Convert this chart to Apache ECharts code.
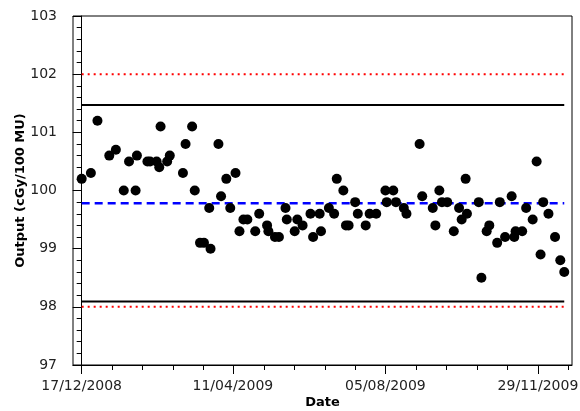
<!DOCTYPE html>
<html>
<head>
<meta charset="utf-8">
<script src="https://cdn.jsdelivr.net/npm/echarts@6/dist/echarts.min.js"></script>
<style>
  html, body { margin: 0; padding: 0; background: #fff; }
  #chart { width: 580px; height: 411px; }
</style>
</head>
<body>
<div id="chart"></div>
<script>
// days counted from 17/12/2008
let dayNums = [0, 7, 12, 21, 26, 32, 36, 41, 42, 50, 52, 57, 59, 60, 65, 67, 77, 79, 84, 86,
  90, 93, 97, 98, 104, 106, 110, 113, 117, 120, 123, 126, 132, 135, 141, 142, 147, 150, 155, 156,
  162, 164, 168, 174, 176, 181, 182, 188, 192, 194, 199, 201, 203, 208, 210, 216, 219, 224, 231, 232,
  237, 239, 245, 247, 257, 259, 267, 269, 272, 274, 278, 283, 287, 289, 292, 293, 302, 304, 308, 310,
  316, 318, 322, 327, 329, 330, 335, 338, 343, 346, 349, 351, 355, 360, 364, 367]
let outputs = [100.2, 100.3, 101.2, 100.6, 100.7, 100.0, 100.5, 100.0, 100.6, 100.5, 100.5, 100.5, 100.4, 101.1, 100.5, 100.6, 100.3, 100.8, 101.1, 100.0,
  99.1, 99.1, 99.7, 99.0, 100.8, 99.9, 100.2, 99.7, 100.3, 99.3, 99.5, 99.5, 99.3, 99.6, 99.4, 99.3, 99.2, 99.2, 99.7, 99.5,
  99.3, 99.5, 99.4, 99.6, 99.2, 99.6, 99.3, 99.7, 99.6, 100.2, 100.0, 99.4, 99.4, 99.8, 99.6, 99.4, 99.6, 99.6, 100.0, 99.8,
  100.0, 99.8, 99.7, 99.6, 100.8, 99.9, 99.7, 99.4, 100.0, 99.8, 99.8, 99.3, 99.7, 99.5, 100.2, 99.6, 99.8, 98.5, 99.3, 99.4,
  99.1, 99.8, 99.2, 99.9, 99.2, 99.3, 99.3, 99.7, 99.5, 100.5, 98.9, 99.8, 99.6, 99.2, 98.8, 98.6]

let tickDays = [0, 115, 231, 347]
let tickLabels = ['17/12/2008', '11/04/2009', '05/08/2009', '29/11/2009']
let minorTickDays = [23.1, 46.3, 69.4, 92.5, 138.8, 161.9, 185.1, 208.2, 254.5, 277.6, 300.7, 323.9, 370.1]

let meanLine = 99.78
let controlLimits = [98.09, 101.47]
let toleranceLimits = [98.0, 102.0]

let xMin = -6.6, xMax = 372.9
let font = 'DejaVu Sans'

var myChart = echarts.init(document.getElementById('chart'))

let first = dayNums[0], last = dayNums[dayNums.length - 1]
function hline(v, color, type, width) {
    return {
        type: 'line',
        data: [[first, v], [last, v]],
        symbol: 'none',
        silent: true,
        z: 2,
        lineStyle: { color: color, type: type, width: width }
    }
}

var option = {
    animation: false,
    grid: {
        left: 73, right: 8, top: 16, bottom: 46,
        outerBoundsMode: 'none',
        containLabel: false,
        show: true, borderColor: '#000', borderWidth: 1
    },
    xAxis: [{
        type: 'value',
        min: xMin,
        max: xMax,
        position: 'bottom',
        name: 'Date',
        nameLocation: 'middle',
        nameGap: 31,
        nameMoveOverlap: false,
        nameTextStyle: { fontFamily: font, fontWeight: 'bold', fontSize: 13, color: '#000' },
        splitLine: { show: false },
        axisLine: { lineStyle: { color: '#000' } },
        axisTick: { customValues: tickDays, length: 9, lineStyle: { color: '#000' } },
        axisLabel: {
            customValues: tickDays,
            margin: 14,
            fontFamily: font,
            fontSize: 14,
            color: '#222',
            formatter: function (v) {
                for (let i = 0; i < tickDays.length; i++) {
                    if (Math.abs(tickDays[i] - v) < 0.5) return tickLabels[i]
                }
                return ''
            }
        }
    }, {
        // minor ticks only
        type: 'value',
        min: xMin,
        max: xMax,
        position: 'bottom',
        splitLine: { show: false },
        axisLine: { show: false },
        axisTick: { customValues: minorTickDays, length: 5, lineStyle: { color: '#000' } },
        axisLabel: { show: false }
    }],
    yAxis: {
        type: 'value',
        min: 97,
        max: 103,
        interval: 1,
        name: 'Output (cGy/100 MU)',
        nameLocation: 'middle',
        nameGap: 46,
        nameMoveOverlap: false,
        nameTextStyle: { fontFamily: font, fontWeight: 'bold', fontSize: 13, color: '#000' },
        splitLine: { show: false },
        axisLine: { show: true, lineStyle: { color: '#000' } },
        axisTick: { show: true, length: 9, lineStyle: { color: '#000' } },
        minorTick: { show: true, splitNumber: 5, length: 5, lineStyle: { color: '#000' } },
        axisLabel: { margin: 16, fontFamily: font, fontSize: 14, color: '#222' }
    },
    series: [
        hline(toleranceLimits[0], '#ff0000', [2, 4], 2),
        hline(toleranceLimits[1], '#ff0000', [2, 4], 2),
        hline(controlLimits[0], '#000', 'solid', 2),
        hline(controlLimits[1], '#000', 'solid', 2),
        hline(meanLine, '#0000ff', [8, 5], 2.5),
        {
            type: 'scatter',
            data: dayNums.map((d, i) => [d, outputs[i]]),
            symbolSize: 10,
            z: 5,
            itemStyle: { color: '#000', opacity: 1 }
        }
    ]
}

myChart.setOption(option)
</script>
</body>
</html>
